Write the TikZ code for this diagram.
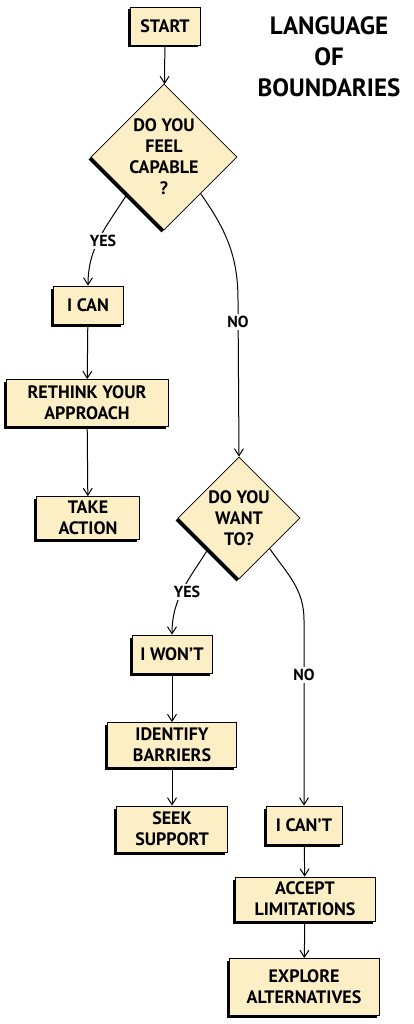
\documentclass[tikz,border=0pt]{standalone}
\usepackage{fontspec}
\setmainfont{PT Sans}
\usetikzlibrary{arrows.meta,shapes.geometric,shadows}
\definecolor{boxfill}{HTML}{FCEFC6}
\begin{document}
\begin{tikzpicture}[x=1pt,y=-1pt,
 box/.style={draw=black, line width=0.8pt, fill=boxfill,
   drop shadow={shadow xshift=-2.5pt,shadow yshift=-2.5pt,fill=black,opacity=1},
   align=center, font=\fontsize{18}{21}\selectfont\bfseries, inner sep=0pt},
 dec/.style={box, shape=diamond, aspect=1},
 arr/.style={-{Straight Barb[length=7pt,width=9pt]}, line width=1pt},
 lbl/.style={fill=white, font=\fontsize{16}{18}\selectfont\bfseries, inner sep=2pt},
 ttl/.style={align=center, font=\fontsize{25}{31}\selectfont\bfseries}]
\useasboundingbox (0,0) rectangle (414,1024);
\fill[white] (0,0) rectangle (414,1024);

\node[ttl] (title) at (329,57) {LANGUAGE\\OF\\BOUNDARIES};

\node[box, minimum width=70pt, minimum height=38pt] (start) at (165,26) {START};
\node[dec, minimum width=146pt, minimum height=146pt] (d1) at (164,157) {DO YOU\\FEEL\\CAPABLE\\?};
\node[box, minimum width=70pt, minimum height=38pt] (ican) at (88,305) {I CAN};
\node[box, minimum width=162pt, minimum height=47pt] (rethink) at (87,403) {RETHINK YOUR\\APPROACH};
\node[box, minimum width=103pt, minimum height=43pt] (take) at (88,518) {TAKE\\ACTION};
\node[dec, minimum width=122pt, minimum height=122pt] (d2) at (239,518) {DO YOU\\WANT\\TO?};
\node[box, minimum width=80pt, minimum height=38pt] (iwont) at (172,654) {I WON'T};
\node[box, minimum width=129pt, minimum height=45pt] (ident) at (172,745) {IDENTIFY\\BARRIERS};
\node[box, minimum width=111pt, minimum height=46pt] (seek) at (172,829) {SEEK\\SUPPORT};
\node[box, minimum width=76pt, minimum height=38pt] (icant) at (304,825) {I CAN'T};
\node[box, minimum width=140pt, minimum height=44pt] (accept) at (305,899) {ACCEPT\\LIMITATIONS};
\node[box, minimum width=150pt, minimum height=57pt] (explore) at (304,987) {EXPLORE\\ALTERNATIVES};

\coordinate (k1) at (238,300);
\coordinate (k2) at (304,620);

\draw[arr] (start) -- (d1);
\draw[arr] (d1.south west) to[out=238,in=90] (ican.north);
\draw[arr] (d1.south east) to[out=-55,in=90] (k1) -- (d2.north);
\draw[arr] (ican) -- (rethink);
\draw[arr] (rethink) -- (take);
\draw[arr] (d2.south west) to[out=238,in=90] (iwont.north);
\draw[arr] (d2.south east) to[out=-55,in=90] (k2) -- (icant.north);
\draw[arr] (iwont) -- (ident);
\draw[arr] (ident) -- (seek);
\draw[arr] (icant) -- (accept);
\draw[arr] (accept) -- (explore);

\node[lbl] (yes1) at (103,241) {YES};
\node[lbl] (no1) at (238,322) {NO};
\node[lbl] (yes2) at (187,592) {YES};
\node[lbl] (no2) at (304,675) {NO};
\end{tikzpicture}
\end{document}
